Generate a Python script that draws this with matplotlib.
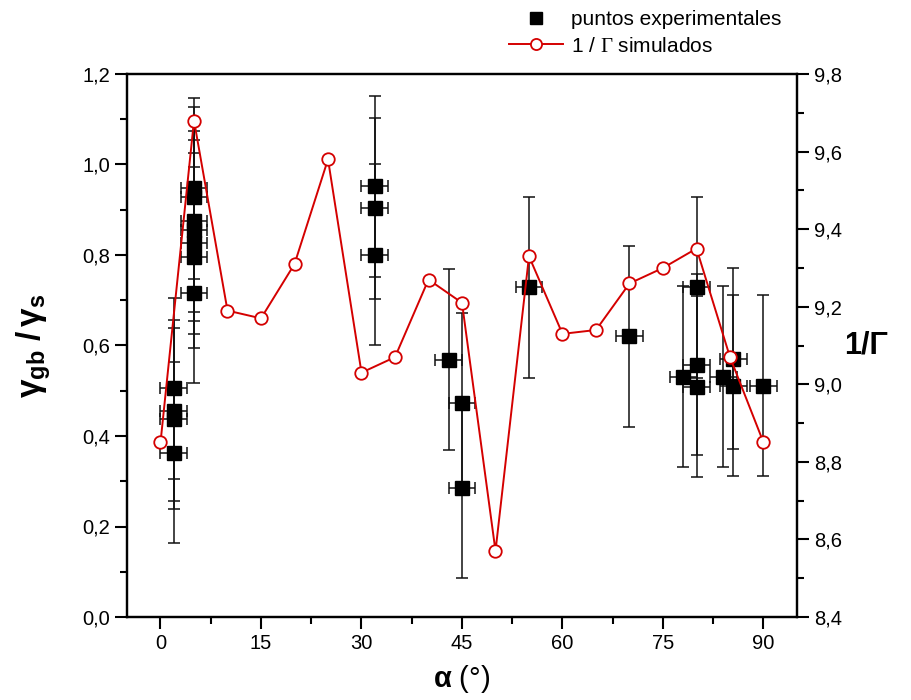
import matplotlib
matplotlib.use('Agg')
import matplotlib.pyplot as plt
from matplotlib.ticker import MultipleLocator, FuncFormatter
from matplotlib.lines import Line2D

# experimental points (alpha in degrees, gamma_gb / gamma_s)
exp_alpha = [2, 2, 2, 2,
             5, 5, 5, 5, 5, 5, 5,
             32, 32, 32,
             43, 45, 45,
             55, 70,
             78, 80, 80, 80, 84, 85.5, 85.5, 90]
exp_ratio = [0.505, 0.456, 0.438, 0.363,
             0.948, 0.928, 0.875, 0.855, 0.826, 0.795, 0.717,
             0.952, 0.903, 0.801,
             0.569, 0.472, 0.286,
             0.729, 0.620,
             0.531, 0.729, 0.558, 0.509, 0.531, 0.571, 0.511, 0.511]
exp_xerr = 2
exp_yerr = 0.2

# simulated 1/Gamma
sim_alpha = [0, 5, 10, 15, 20, 25, 30, 35, 40, 45, 50, 55, 60, 65, 70, 75, 80, 85, 90]
sim_inv_gamma = [8.85, 9.68, 9.19, 9.17, 9.31, 9.58, 9.03, 9.07, 9.27, 9.21,
                 8.57, 9.33, 9.13, 9.14, 9.26, 9.30, 9.35, 9.07, 8.85]

plt.rcParams['font.family'] = ['Liberation Sans', 'DejaVu Sans']
plt.rcParams['mathtext.fontset'] = 'custom'
plt.rcParams['mathtext.rm'] = 'Liberation Sans'
plt.rcParams['mathtext.bf'] = 'Liberation Sans:bold'
plt.rcParams['mathtext.it'] = 'Liberation Sans:italic'
plt.rcParams['mathtext.sf'] = 'Liberation Serif'  # serif Gamma in the legend

fig = plt.figure(figsize=(9.12, 7.0), dpi=100)
ax = fig.add_axes([127 / 912, 1 - 617 / 700, 670 / 912, 543 / 700])
ax2 = ax.twinx()

red = '#d40000'

ax.errorbar(exp_alpha, exp_ratio, xerr=exp_xerr, yerr=exp_yerr, fmt='none',
            ecolor='#111111', elinewidth=1.1, capsize=4.5, capthick=1.1, zorder=2)
ax.plot(exp_alpha, exp_ratio, 's', color='black', markersize=10, zorder=3)

ax2.plot(sim_alpha, sim_inv_gamma, '-o', color=red, lw=1.4, markersize=9,
         markerfacecolor='white', markeredgecolor=red, markeredgewidth=1.3, zorder=4)

ax.set_xlim(-5, 95)
ax.set_ylim(0, 1.2)
ax2.set_ylim(8.4, 9.8)

ax.xaxis.set_major_locator(MultipleLocator(15))
ax.xaxis.set_minor_locator(MultipleLocator(7.5))
ax.yaxis.set_major_locator(MultipleLocator(0.2))
ax.yaxis.set_minor_locator(MultipleLocator(0.1))
ax2.yaxis.set_major_locator(MultipleLocator(0.2))
ax2.yaxis.set_minor_locator(MultipleLocator(0.1))

comma = FuncFormatter(lambda v, pos: f'{v:.1f}'.replace('.', ','))
ax.yaxis.set_major_formatter(comma)
ax2.yaxis.set_major_formatter(comma)

for a in (ax, ax2):
    for s in a.spines.values():
        s.set_linewidth(1.6)
    a.tick_params(which='major', direction='out', length=8.5, width=1.5, labelsize=14.5)
    a.tick_params(which='minor', direction='out', length=5, width=1.5)

ax.set_ylabel(r'$\mathbf{\gamma_{gb}\ /\,\gamma_{s}}$', fontsize=24)
ax.yaxis.set_label_coords(-0.11, 0.5)
ax.set_xlabel(r'$\mathbf{\alpha}$ (°)', fontsize=21)
ax.xaxis.set_label_coords(0.5, -0.085)
ax2.set_ylabel('1/Γ', fontsize=22, fontweight='bold', rotation=0, va='center', ha='center')
ax2.yaxis.set_label_coords(1.103, 0.5)

handles = [Line2D([], [], ls='none', marker='s', color='black', markersize=9),
           Line2D([], [], color=red, lw=1.4, marker='o', markersize=8,
                  markerfacecolor='white', markeredgecolor=red, markeredgewidth=1.3)]
fig.legend(handles, ['puntos experimentales', r'1 / $\mathsf{\Gamma}$ simulados'],
           loc='upper left', bbox_to_anchor=(490 / 912, 1.012), frameon=False,
           fontsize=15, handlelength=2.6, handletextpad=0.4, labelspacing=0.35)

fig.savefig('out.png', dpi=100)
